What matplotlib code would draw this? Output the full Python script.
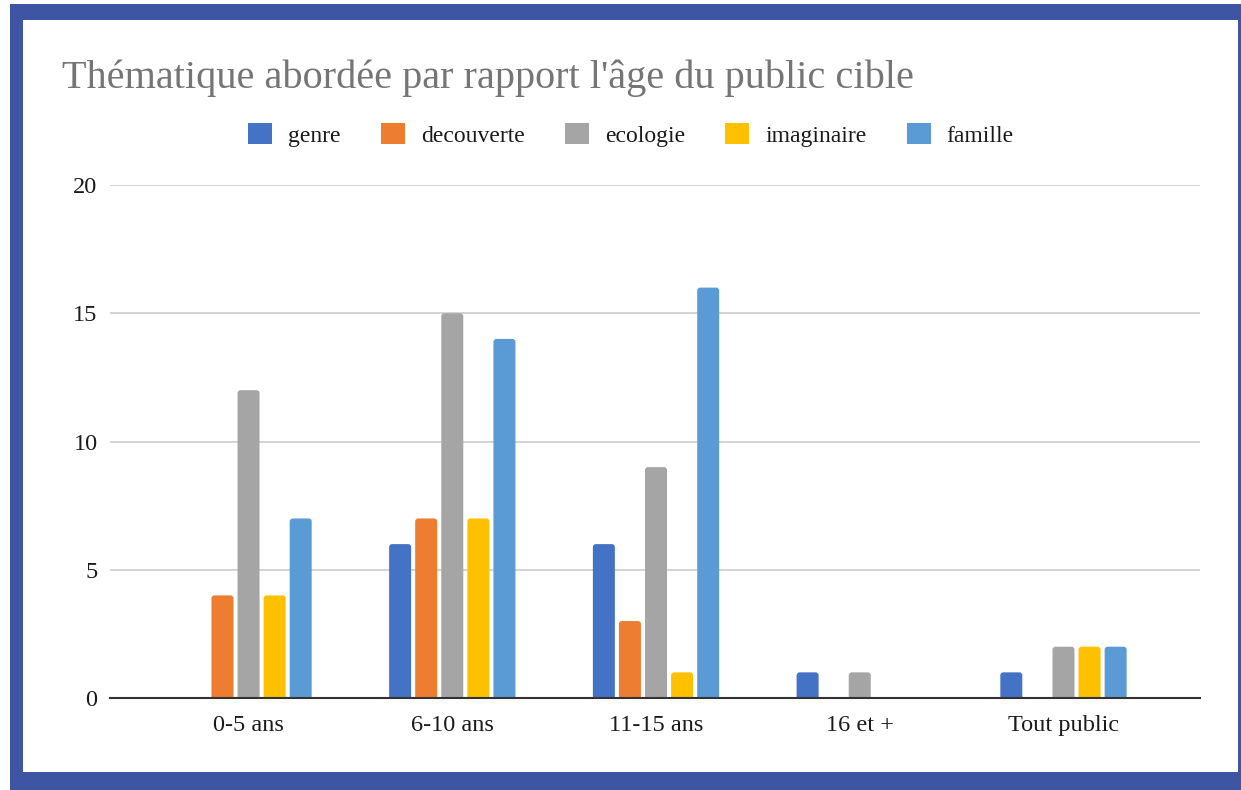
import matplotlib.pyplot as plt
from matplotlib.patches import Rectangle, Patch, FancyBboxPatch
import numpy as np

categories = ["0-5 ans", "6-10 ans", "11-15 ans", "16 et +", "Tout public"]
series_names = ["genre", "decouverte", "ecologie", "imaginaire", "famille"]
genre = [0, 6, 6, 1, 1]
decouverte = [4, 7, 3, 0, 0]
ecologie = [12, 15, 9, 1, 2]
imaginaire = [4, 7, 1, 0, 2]
famille = [7, 14, 16, 0, 2]
colors = ["#4472C4", "#ED7D31", "#A5A5A5", "#FFC000", "#5B9BD5"]

plt.rcParams['font.family'] = ['Liberation Serif', 'DejaVu Serif']

fig = plt.figure(figsize=(12.41, 7.90), dpi=100, facecolor="white")
W, H = 1241, 790
# cadre bleu
fig.patches.append(Rectangle((10 / W, 0), 1 - 10 / W, 1 - 4 / H, transform=fig.transFigure,
                             facecolor="#3D55A3", edgecolor="none", zorder=-3))
fig.patches.append(Rectangle((23 / W, 18 / H), (1238 - 23) / W, (770 - 18) / H,
                             transform=fig.transFigure, facecolor="white",
                             edgecolor="none", zorder=-2))

ax = fig.add_axes([110 / W, 92 / H, 1090 / W, 513 / H])
ax.set_facecolor("none")
ax.set_ylim(0, 20)
ax.set_xlim(-0.68, 4.67)

x = np.arange(len(categories))
width = 0.108
step = 0.128
data = [genre, decouverte, ecologie, imaginaire, famille]

# barres aux coins arrondis (le bas est coupé par l'axe)
px_x = 5.35 / 1090
px_y = 20 / 513
for i, (vals, c) in enumerate(zip(data, colors)):
    bars = ax.bar(x + (i - 2) * step, vals, width, color=c, zorder=3)
    for b in bars:
        h = b.get_height()
        if h <= 0:
            continue
        b.set_visible(False)
        ax.add_patch(FancyBboxPatch((b.get_x(), -4 * px_y), b.get_width(), h + 4 * px_y,
                                    boxstyle=f"round,pad=0,rounding_size={3 * px_x}",
                                    mutation_aspect=px_y / px_x,
                                    facecolor=c, edgecolor="none", zorder=3))

ax.set_yticks([0, 5, 10, 15, 20])
ax.set_xticks(x)
ax.set_xticklabels(categories)
ax.grid(axis="y", color="#cccccc", linewidth=1.2, zorder=0)
for s in ["top", "right", "left"]:
    ax.spines[s].set_visible(False)
ax.spines["bottom"].set_color("#333333")
ax.spines["bottom"].set_linewidth(1.5)
ax.spines["bottom"].set_zorder(4)
ax.tick_params(axis="both", length=0, labelsize=17.5, colors="#1a1a1a")
ax.tick_params(axis="y", pad=9)
ax.tick_params(axis="x", pad=12)

fig.text(62 / W, 1 - 78 / H, "Thématique abordée par rapport l'âge du public cible",
         fontsize=29, color="#757575", va="center", ha="left")

handles = [Patch(facecolor=c, edgecolor="none") for c in colors]
fig.legend(handles, series_names, loc="center", bbox_to_anchor=(631 / W, 1 - 135 / H),
           ncol=5, frameon=False, fontsize=17, handlelength=1.0, handleheight=1.0,
           columnspacing=1.72, handletextpad=0.68, labelcolor="#1a1a1a")

fig.savefig("out.png", dpi=100, facecolor=fig.get_facecolor())
